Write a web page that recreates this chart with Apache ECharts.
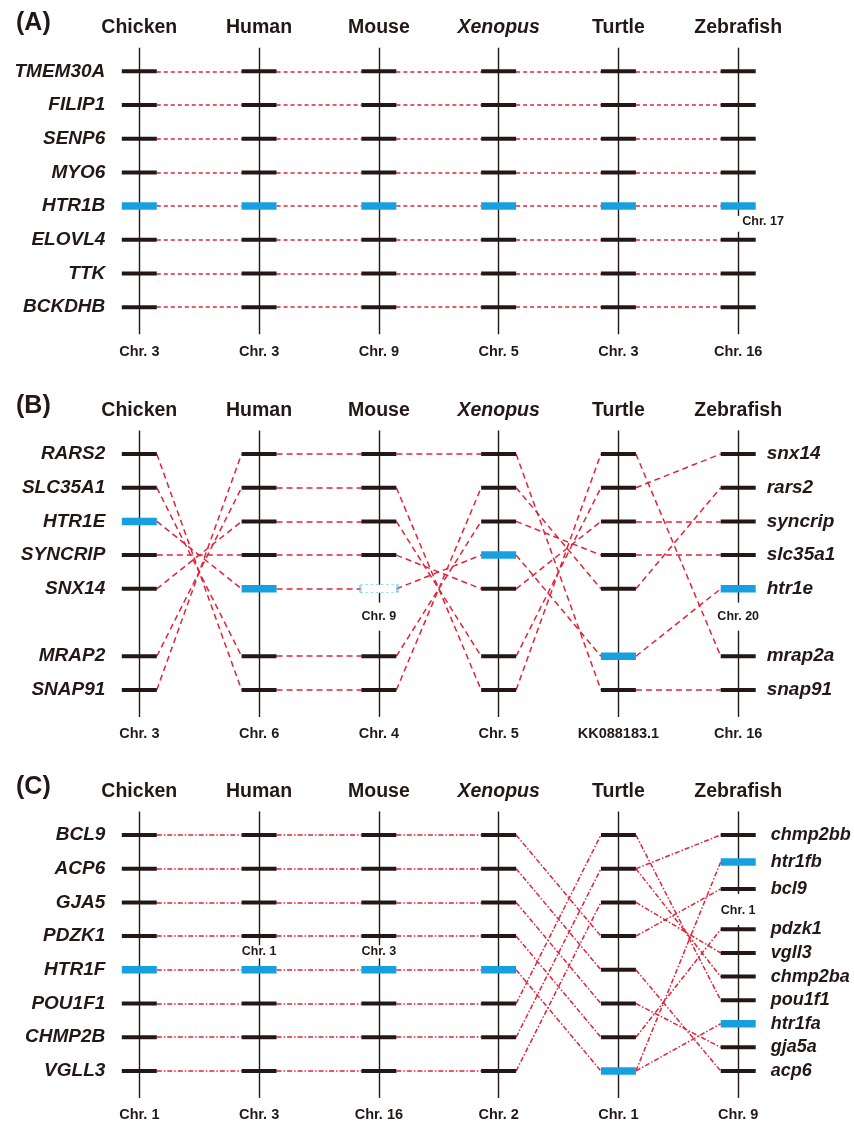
<!DOCTYPE html>
<html><head><meta charset="utf-8">
<script src="https://cdn.jsdelivr.net/npm/echarts@6/dist/echarts.min.js"></script>
<style>html,body{margin:0;padding:0;background:#fff}#c{width:854px;height:1124px}</style>
</head><body><div id="c"></div>
<script>
// ---------------- DATA ----------------
const species = ['Chicken', 'Human', 'Mouse', 'Xenopus', 'Turtle', 'Zebrafish'];
const panelLabels = ['(A)', '(B)', '(C)'];

// Panel A : identical gene order in all six species
const genesA = ['TMEM30A', 'FILIP1', 'SENP6', 'MYO6', 'HTR1B', 'ELOVL4', 'TTK', 'BCKDHB'];
const slotsA = [0, 1, 2, 3, 4, 5, 6, 7];
const chrA = ['Chr. 3', 'Chr. 3', 'Chr. 9', 'Chr. 5', 'Chr. 3', 'Chr. 16'];
const breaksA = [{ sp: 5, gap: [4.29, 4.76], text: 'Chr. 17', at: 4.46, pos: 'right' }];

// Panel B
const slotsB = [0, 1, 2, 3, 4, 6, 7];
const chickenB = ['RARS2', 'SLC35A1', 'HTR1E', 'SYNCRIP', 'SNX14', 'MRAP2', 'SNAP91'];
const humanB = ['SNAP91', 'MRAP2', 'SNX14', 'SYNCRIP', 'HTR1E', 'SLC35A1', 'RARS2'];
const mouseB = ['SNAP91', 'MRAP2', 'SNX14', 'SYNCRIP', 'HTR1E', 'SLC35A1', 'RARS2'];
const xenopusB = ['SNAP91', 'RARS2', 'SLC35A1', 'HTR1E', 'SYNCRIP', 'SNX14', 'MRAP2'];
const turtleB = ['MRAP2', 'SNX14', 'SYNCRIP', 'SLC35A1', 'RARS2', 'HTR1E', 'SNAP91'];
const zebrafishB = ['snx14', 'rars2', 'syncrip', 'slc35a1', 'htr1e', 'mrap2a', 'snap91'];
const chrB = ['Chr. 3', 'Chr. 6', 'Chr. 4', 'Chr. 5', 'KK088183.1', 'Chr. 16'];
const breaksB = [
  { sp: 2, gap: [4.41, 5.24], text: 'Chr. 9', at: 4.83, pos: 'inside' },
  { sp: 5, gap: [4.41, 5.24], text: 'Chr. 20', at: 4.83, pos: 'inside' }
];
const pseudoB = [{ sp: 2, gene: 'HTR1E' }];

// Panel C
const slotsC = [0, 1, 2, 3, 4, 5, 6, 7];
const chickenC = ['BCL9', 'ACP6', 'GJA5', 'PDZK1', 'HTR1F', 'POU1F1', 'CHMP2B', 'VGLL3'];
const humanC = ['BCL9', 'ACP6', 'GJA5', 'PDZK1', 'HTR1F', 'POU1F1', 'CHMP2B', 'VGLL3'];
const mouseC = ['BCL9', 'ACP6', 'GJA5', 'PDZK1', 'HTR1F', 'POU1F1', 'CHMP2B', 'VGLL3'];
const xenopusC = ['BCL9', 'ACP6', 'GJA5', 'PDZK1', 'HTR1F', 'POU1F1', 'CHMP2B', 'VGLL3'];
const turtleC = ['POU1F1', 'CHMP2B', 'VGLL3', 'BCL9', 'ACP6', 'GJA5', 'PDZK1', 'HTR1F'];
const zebrafishC = ['chmp2bb', 'htr1fb', 'bcl9', 'pdzk1', 'vgll3', 'chmp2ba', 'pou1f1', 'htr1fa', 'gja5a', 'acp6'];
const zebrafishSlotsC = [0, 0.8, 1.6, 2.8, 3.5, 4.2, 4.9, 5.6, 6.3, 7.0];
const chrC = ['Chr. 1', 'Chr. 3', 'Chr. 16', 'Chr. 2', 'Chr. 1', 'Chr. 9'];
const breaksC = [
  { sp: 1, gap: [3.27, 3.66], text: 'Chr. 1', at: 3.46, pos: 'inside' },
  { sp: 2, gap: [3.27, 3.66], text: 'Chr. 3', at: 3.46, pos: 'inside' },
  { sp: 5, gap: [1.75, 2.67], text: 'Chr. 1', at: 2.23, pos: 'inside' }
];

// ---------------- STYLE / LAYOUT ----------------
const FONT = '"Liberation Sans", Arial, Helvetica, sans-serif';
const INK = '#231815', RED = '#e0243a', BLUE = '#17a0e0', CYAN = '#3cb9e3';
const GRID_LEFT = 139.3, GRID_RIGHT = 115.8, GRID_H = 286.5;
const GRID_TOPS = [47.7, 430.4, 811.4];
const YMIN = -0.7, YMAX = 7.8;
const TICK_W = 35;
const TH = (TICK_W / 2) / ((854 - GRID_LEFT - GRID_RIGHT) / 5);

const panels = [
  { orders: [genesA, genesA, genesA, genesA, genesA, genesA], slots: [slotsA, slotsA, slotsA, slotsA, slotsA, slotsA],
    chr: chrA, breaks: breaksA, pseudo: [], right: false, dash: [4, 3] },
  { orders: [chickenB, humanB, mouseB, xenopusB, turtleB, zebrafishB], slots: [slotsB, slotsB, slotsB, slotsB, slotsB, slotsB],
    chr: chrB, breaks: breaksB, pseudo: pseudoB, right: true, rightFont: 19, rightDist: 11, dash: [6, 4] },
  { orders: [chickenC, humanC, mouseC, xenopusC, turtleC, zebrafishC], slots: [slotsC, slotsC, slotsC, slotsC, slotsC, zebrafishSlotsC],
    chr: chrC, breaks: breaksC, pseudo: [], right: true, rightFont: 18, rightDist: 15, dash: [5, 2, 1.5, 2] }
];

function same(a, b) {
  const A = a.toUpperCase(), B = b.toUpperCase();
  return A === B || (B.startsWith(A) && B.length === A.length + 1);
}

const option = {
  animation: false,
  backgroundColor: '#fff',
  title: panelLabels.map((t, i) => ({
    text: t, left: 16, top: [11, 394, 775][i], padding: 0,
    textStyle: { fontSize: 25, fontWeight: 'bold', fontFamily: FONT, color: INK }
  })),
  grid: [], xAxis: [], yAxis: [], series: []
};

panels.forEach((p, pi) => {
  option.grid.push({ left: GRID_LEFT, right: GRID_RIGHT, top: GRID_TOPS[pi], height: GRID_H });
  const hidden = { axisLine: { show: false, onZero: false }, axisTick: { show: false }, splitLine: { show: false } };
  option.xAxis.push(Object.assign({
    gridIndex: pi, type: 'value', position: 'top', min: 0, max: 5, interval: 1,
    axisLabel: {
      margin: 10, showMinLabel: true, showMaxLabel: true,
      formatter: v => (species[v] === 'Xenopus' ? '{i|' : '{n|') + species[v] + '}',
      rich: {
        n: { fontSize: 19.5, fontWeight: 'bold', fontFamily: FONT, color: INK },
        i: { fontSize: 19.5, fontWeight: 'bold', fontStyle: 'italic', fontFamily: FONT, color: INK }
      }
    }
  }, hidden));
  option.xAxis.push(Object.assign({
    gridIndex: pi, type: 'value', position: 'bottom', min: 0, max: 5, interval: 1,
    axisLabel: { margin: 10, showMinLabel: true, showMaxLabel: true, formatter: v => p.chr[v],
      fontSize: 14.5, fontWeight: 'bold', fontFamily: FONT, color: INK }
  }, hidden));
  option.yAxis.push({ gridIndex: pi, type: 'value', min: YMIN, max: YMAX, inverse: true, show: false });
  const xi = 2 * pi + 1, yi = pi;

  // chromosome bars (vertical lines), split where a chromosome changes
  const vdata = [];
  species.forEach((s, si) => {
    const gaps = p.breaks.filter(b => b.sp === si).map(b => b.gap).sort((a, b) => a[0] - b[0]);
    let y0 = YMIN;
    gaps.forEach(g => { vdata.push({ coords: [[si, y0], [si, g[0]]] }); y0 = g[1]; });
    vdata.push({ coords: [[si, y0], [si, YMAX]] });
  });
  option.series.push({ type: 'lines', coordinateSystem: 'cartesian2d', xAxisIndex: xi, yAxisIndex: yi,
    silent: true, clip: false, z: 1, lineStyle: { color: INK, width: 1.4, opacity: 1, curveness: 0 }, data: vdata });

  // orthologue links between neighbouring species
  const links = [];
  for (let s = 0; s < 5; s++) {
    p.orders[s].forEach((g, gi) => {
      p.orders[s + 1].forEach((h, hi) => {
        if (same(g, h)) links.push({ coords: [[s + TH, p.slots[s][gi]], [s + 1 - TH, p.slots[s + 1][hi]]] });
      });
    });
  }
  option.series.push({ type: 'lines', coordinateSystem: 'cartesian2d', xAxisIndex: xi, yAxisIndex: yi,
    silent: true, clip: false, z: 2, lineStyle: { color: RED, width: 1.5, opacity: 1, type: p.dash, curveness: 0 }, data: links });

  // gene ticks
  const ticks = [];
  p.orders.forEach((list, si) => {
    list.forEach((g, gi) => {
      const pseudo = p.pseudo.some(q => q.sp === si && q.gene === g);
      const hl = /^htr1/i.test(g);
      const item = { name: g, value: [si, p.slots[si][gi]], symbol: 'rect' };
      if (pseudo) {
        item.symbolSize = [37, 8];
        item.itemStyle = { color: '#ffffff', borderColor: CYAN, borderWidth: 1.2, borderType: 'dotted', opacity: 1 };
      } else if (hl) {
        item.symbolSize = [TICK_W, 7.5];
        item.itemStyle = { color: BLUE, opacity: 1 };
      } else {
        item.symbolSize = [TICK_W, 4];
        item.itemStyle = { color: INK, opacity: 1 };
      }
      if (si === 0) {
        item.label = { show: true, position: 'left', distance: 16.5, formatter: '{b}',
          fontSize: 19, fontWeight: 'bold', fontStyle: 'italic', fontFamily: FONT, color: INK };
      } else if (si === 5 && p.right) {
        item.label = { show: true, position: 'right', distance: p.rightDist, formatter: '{b}',
          fontSize: p.rightFont, fontWeight: 'bold', fontStyle: 'italic', fontFamily: FONT, color: INK };
      }
      ticks.push(item);
    });
  });
  option.series.push({ type: 'scatter', xAxisIndex: xi, yAxisIndex: yi, silent: true, clip: false, z: 3,
    itemStyle: { opacity: 1 }, data: ticks });

  // chromosome labels at breaks
  option.series.push({ type: 'scatter', xAxisIndex: xi, yAxisIndex: yi, silent: true, clip: false, z: 4,
    symbolSize: 0.1, itemStyle: { color: 'rgba(0,0,0,0)', opacity: 1 },
    data: p.breaks.map(b => ({ name: b.text, value: [b.sp, b.at],
      label: { show: true, position: b.pos, distance: 4, formatter: '{b}', fontSize: 12.5, fontWeight: 'bold', fontFamily: FONT, color: INK } })) });
});

const chart = echarts.init(document.getElementById('c'), null, { renderer: 'canvas' });
chart.setOption(option);
</script></body></html>
